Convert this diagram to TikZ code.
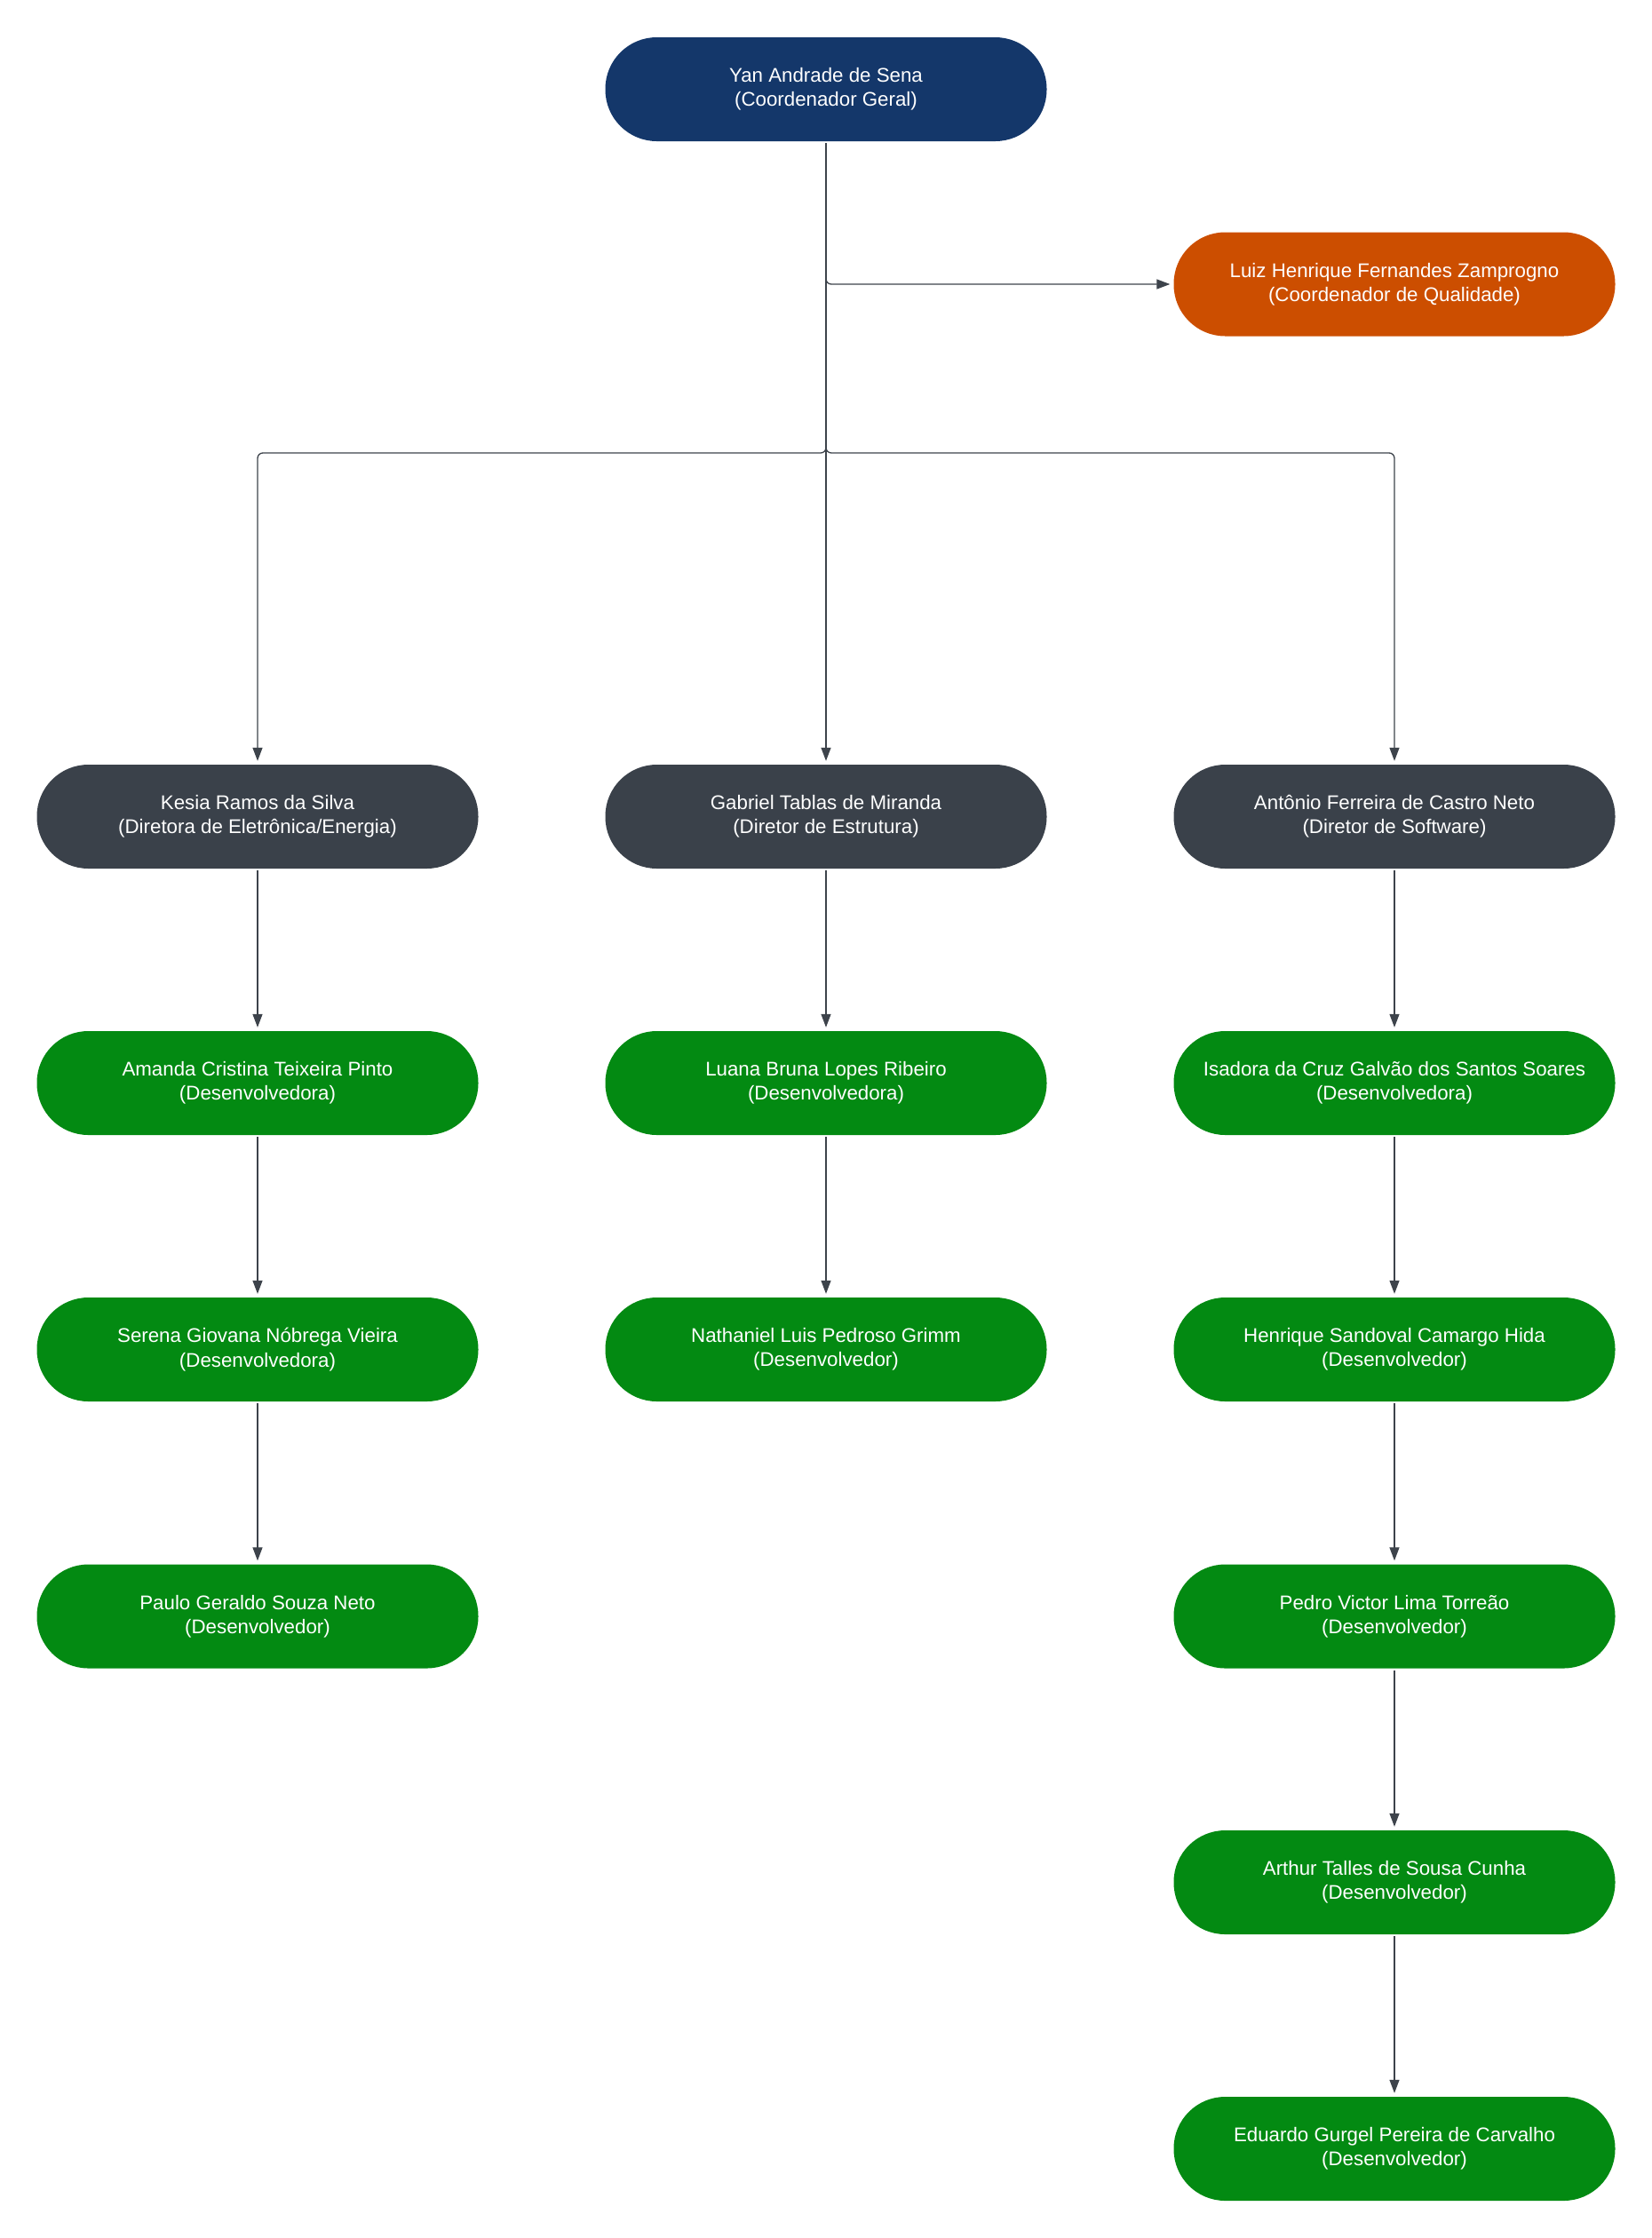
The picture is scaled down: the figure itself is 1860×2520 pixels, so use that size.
\documentclass[tikz,border=0pt]{standalone}
\usepackage{fontspec}
\setmainfont{Liberation Sans}
\usetikzlibrary{arrows.meta}
\definecolor{navy}{HTML}{14376A}
\definecolor{orng}{HTML}{CC4E00}
\definecolor{slate}{HTML}{3A414A}
\definecolor{grn}{HTML}{038A12}
\definecolor{wire}{HTML}{3D434B}
\tikzset{
  pill/.style={rectangle, rounded corners=58pt, minimum width=497pt, minimum height=117pt,
    inner sep=0pt, align=center, text=white, font=\fontsize{22.3}{27.3}\selectfont},
  chief/.style={pill, fill=navy},
  quality/.style={pill, fill=orng},
  director/.style={pill, fill=slate},
  dev/.style={pill, fill=grn},
  link/.style={draw=wire, line width=1.3pt, rounded corners=6pt,
    -{Triangle[length=15pt,width=11pt]}, shorten <=2pt, shorten >=4pt},
}
\begin{document}
\begin{tikzpicture}[x=1pt,y=-1pt]
\useasboundingbox (0,0) rectangle (1860,2520);
\node[chief] (yan) at (930,100.5) {Yan Andrade de Sena\\(Coordenador Geral)};
\node[quality] (luiz) at (1570,320) {Luiz Henrique Fernandes Zamprogno\\(Coordenador de Qualidade)};

\node[director] (kesia) at (290,919.5) {Kesia Ramos da Silva\\(Diretora de Eletrônica/Energia)};
\node[director] (gabriel) at (930,919.5) {Gabriel Tablas de Miranda\\(Diretor de Estrutura)};
\node[director] (antonio) at (1570,919.5) {Antônio Ferreira de Castro Neto\\(Diretor de Software)};

\node[dev] (amanda) at (290,1219.5) {Amanda Cristina Teixeira Pinto\\(Desenvolvedora)};
\node[dev] (serena) at (290,1519.5) {Serena Giovana Nóbrega Vieira\\(Desenvolvedora)};
\node[dev] (paulo) at (290,1820) {Paulo Geraldo Souza Neto\\(Desenvolvedor)};

\node[dev] (luana) at (930,1219.5) {Luana Bruna Lopes Ribeiro\\(Desenvolvedora)};
\node[dev] (nathaniel) at (930,1519.5) {Nathaniel Luis Pedroso Grimm\\(Desenvolvedor)};

\node[dev] (isadora) at (1570,1219.5) {Isadora da Cruz Galvão dos Santos Soares\\(Desenvolvedora)};
\node[dev] (henrique) at (1570,1519.5) {Henrique Sandoval Camargo Hida\\(Desenvolvedor)};
\node[dev] (pedro) at (1570,1820) {Pedro Victor Lima Torreão\\(Desenvolvedor)};
\node[dev] (arthur) at (1570,2119.5) {Arthur Talles de Sousa Cunha\\(Desenvolvedor)};
\node[dev] (eduardo) at (1570,2419.5) {Eduardo Gurgel Pereira de Carvalho\\(Desenvolvedor)};

\coordinate (bus) at (930,510);

\draw[link] (yan.south) |- (luiz.west);
\draw[link] (yan.south) -- (bus) -| (kesia.north);
\draw[link] (yan.south) -- (gabriel.north);
\draw[link] (yan.south) -- (bus) -| (antonio.north);

\draw[link] (kesia) -- (amanda);
\draw[link] (amanda) -- (serena);
\draw[link] (serena) -- (paulo);

\draw[link] (gabriel) -- (luana);
\draw[link] (luana) -- (nathaniel);

\draw[link] (antonio) -- (isadora);
\draw[link] (isadora) -- (henrique);
\draw[link] (henrique) -- (pedro);
\draw[link] (pedro) -- (arthur);
\draw[link] (arthur) -- (eduardo);
\end{tikzpicture}
\end{document}
